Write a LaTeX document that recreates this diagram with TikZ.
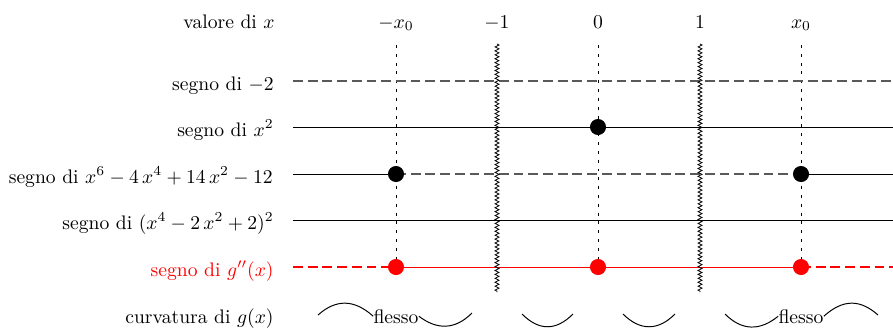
\documentclass[tikz,border=0pt]{standalone}
\usetikzlibrary{decorations.pathmorphing}
\begin{document}
\begin{tikzpicture}[x=0.51pt,y=-0.51pt,
  lab/.style={anchor=base east,inner sep=0pt},
  head/.style={anchor=base,inner sep=0pt},
  solidline/.style={line width=0.5pt},
  dashline/.style={line width=0.8pt,black!65,dash pattern=on 5pt off 2.5pt},
  reddash/.style={line width=0.8pt,red,dash pattern=on 5pt off 2.5pt},
  redline/.style={line width=0.5pt,red},
  vdot/.style={line width=0.5pt,dash pattern=on 1.5pt off 3pt},
  zz/.style={line width=0.4pt,decorate,decoration={zigzag,segment length=2pt,amplitude=1pt}},
  dotb/.style={circle,fill=black,minimum size=8.2pt,inner sep=0pt},
  dotr/.style={circle,fill=red,minimum size=8.2pt,inner sep=0pt},
  curve/.style={line width=0.5pt}]
\useasboundingbox (0,0) rectangle (893,327);

% row labels
\node[lab] (l0) at (275,28) {valore di $x$};
\node[lab] (l1) at (274,90) {segno di $-2$};
\node[lab] (l2) at (274,136) {segno di $x^2$};
\node[lab] (l3) at (273,183) {segno di $x^6-4\,x^4+14\,x^2-12$};
\node[lab] (l4) at (274,229) {segno di $(x^4-2\,x^2+2)^2$};
\node[lab,text=red] (l5) at (274,276) {segno di $g''(x)$};
\node[lab] (l6) at (274,323) {curvatura di $g(x)$};

% column headers
\node[head] (h1) at (396,28) {$-x_0$};
\node[head] (h2) at (497,28) {$-1$};
\node[head] (h3) at (598,28) {$0$};
\node[head] (h4) at (700,28) {$1$};
\node[head] (h5) at (801,28) {$x_0$};

% coordinates
\foreach \r/\y in {1/81,2/127,3/174,4/220,5/267}{
  \coordinate (s\r) at (293,\y);
  \coordinate (e\r) at (893,\y);
  \coordinate (a\r) at (396,\y);
  \coordinate (b\r) at (598,\y);
  \coordinate (c\r) at (801,\y);
}
\coordinate (t1) at (396,45);
\coordinate (t3) at (598,45);
\coordinate (t5) at (801,45);
\coordinate (zt2) at (497,44);
\coordinate (zb2) at (497,292);
\coordinate (zt4) at (700,44);
\coordinate (zb4) at (700,292);

% vertical dotted lines
\draw[vdot] (t1) -- (a5);
\draw[vdot] (t3) -- (b5);
\draw[vdot] (t5) -- (c5);

% rows
\draw[dashline] (s1) -- (e1);
\draw[solidline] (s2) -- (e2);
\draw[solidline] (s3) -- (a3);
\draw[dashline] (a3) -- (c3);
\draw[solidline] (c3) -- (e3);
\draw[solidline] (s4) -- (e4);
\draw[reddash] (s5) -- (a5);
\draw[redline] (a5) -- (c5);
\draw[reddash] (c5) -- (e5);

% zigzags
\draw[zz] (zt2) -- (zb2);
\draw[zz] (zt4) -- (zb4);

% dots
\node[dotb] (d2) at (b2) {};
\node[dotb] (d3a) at (a3) {};
\node[dotb] (d3c) at (c3) {};
\node[dotr] (d5a) at (a5) {};
\node[dotr] (d5b) at (b5) {};
\node[dotr] (d5c) at (c5) {};

% curvature row
\node[head] (f1) at (396,323) {flesso};
\node[head] (f2) at (801,323) {flesso};
\coordinate (p1) at (318,315);
\coordinate (p2) at (472,313);
\coordinate (p3) at (522,314);
\coordinate (p4) at (573,314);
\coordinate (p5) at (623,314);
\coordinate (p6) at (675,314);
\coordinate (p7) at (725,314);
\coordinate (p8) at (878,315);
\draw[curve] (p1) .. controls (336,299) and (354,299) .. (f1.west);
\draw[curve] (f1.east) .. controls (437,330) and (455,330) .. (p2);
\draw[curve] (p3) .. controls (539,331) and (556,331) .. (p4);
\draw[curve] (p5) .. controls (640,331) and (658,331) .. (p6);
\draw[curve] (p7) .. controls (742,331) and (760,331) .. (f2.west);
\draw[curve] (f2.east) .. controls (843,299) and (860,299) .. (p8);
\end{tikzpicture}
\end{document}
